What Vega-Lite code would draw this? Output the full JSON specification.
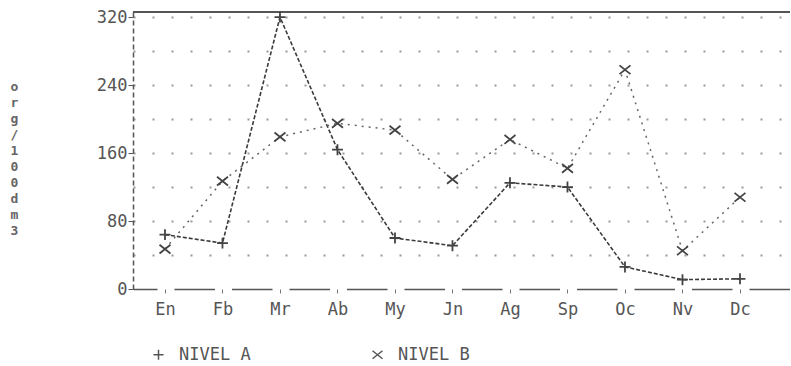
{
  "$schema": "https://vega.github.io/schema/vega-lite/v6.json",
  "autosize": {"type": "none"},
  "padding": {"left": 133, "top": 12, "right": 1, "bottom": 77},
  "width": 657,
  "height": 277,
  "background": "white",
  "config": {
    "view": {"stroke": null},
    "font": "DejaVu Sans Mono",
    "axis": {"labelFont": "DejaVu Sans Mono", "titleFont": "DejaVu Sans Mono"}
  },
  "data": {
    "values": [
      {"mes": "En", "nivel": "NIVEL A", "valor": 64},
      {"mes": "Fb", "nivel": "NIVEL A", "valor": 54},
      {"mes": "Mr", "nivel": "NIVEL A", "valor": 320},
      {"mes": "Ab", "nivel": "NIVEL A", "valor": 164},
      {"mes": "My", "nivel": "NIVEL A", "valor": 60},
      {"mes": "Jn", "nivel": "NIVEL A", "valor": 51},
      {"mes": "Ag", "nivel": "NIVEL A", "valor": 125},
      {"mes": "Sp", "nivel": "NIVEL A", "valor": 120},
      {"mes": "Oc", "nivel": "NIVEL A", "valor": 26},
      {"mes": "Nv", "nivel": "NIVEL A", "valor": 11},
      {"mes": "Dc", "nivel": "NIVEL A", "valor": 12},
      {"mes": "En", "nivel": "NIVEL B", "valor": 47},
      {"mes": "Fb", "nivel": "NIVEL B", "valor": 127},
      {"mes": "Mr", "nivel": "NIVEL B", "valor": 179},
      {"mes": "Ab", "nivel": "NIVEL B", "valor": 195},
      {"mes": "My", "nivel": "NIVEL B", "valor": 187},
      {"mes": "Jn", "nivel": "NIVEL B", "valor": 129},
      {"mes": "Ag", "nivel": "NIVEL B", "valor": 176},
      {"mes": "Sp", "nivel": "NIVEL B", "valor": 142},
      {"mes": "Oc", "nivel": "NIVEL B", "valor": 258},
      {"mes": "Nv", "nivel": "NIVEL B", "valor": 45},
      {"mes": "Dc", "nivel": "NIVEL B", "valor": 108}
    ]
  },
  "encoding": {
    "x": {
      "field": "mes",
      "type": "ordinal",
      "sort": ["En", "Fb", "Mr", "Ab", "My", "Jn", "Ag", "Sp", "Oc", "Nv", "Dc"],
      "scale": {"type": "point", "padding": 0.713, "align": 0.39},
      "axis": {
        "title": null,
        "labelAngle": 0,
        "labelFontSize": 17,
        "labelColor": "#555",
        "labelPadding": 8,
        "domainColor": "#555",
        "domainWidth": 1.5,
        "domainDash": [40.5, 17],
        "domainDashOffset": 16.5,
        "tickColor": "#777",
        "tickSize": 4,
        "tickWidth": 1
      }
    },
    "y": {
      "field": "valor",
      "type": "quantitative",
      "scale": {"domain": [0, 326], "nice": false},
      "axis": {
        "values": [0, 40, 80, 120, 160, 200, 240, 280, 320],
        "labelExpr": "datum.value % 80 == 0 ? datum.label : ''",
        "labelFontSize": 17,
        "labelColor": "#555",
        "labelPadding": 1,
        "tickSize": 5,
        "tickColor": "#555",
        "tickOpacity": {"condition": {"test": "datum.value % 80 == 0", "value": 1}, "value": 0},
        "domainColor": "#555",
        "domainWidth": 1.5,
        "domainDash": [5, 3],
        "grid": true,
        "gridColor": "#999",
        "gridWidth": 2,
        "gridDash": [2, 17],
        "gridOpacity": {"condition": {"test": "datum.value == 0", "value": 0}, "value": 1},
        "title": ["o", "r", "g", "/", "1", "0", "0", "", "d", "m", " 3"],
        "titleFontSize": 13,
        "titleFontWeight": "bold",
        "titleColor": "#666",
        "titleLineHeight": 16,
        "titleAngle": 0,
        "titleAlign": "center",
        "titleBaseline": "top",
        "titleX": -119,
        "titleY": 68
      }
    }
  },
  "layer": [
    {
      "mark": {"type": "rule", "color": "#555", "strokeWidth": 2},
      "encoding": {"y": {"datum": 326}, "x": null}
    },
    {
      "transform": [{"filter": "datum.nivel == 'NIVEL A'"}],
      "mark": {"type": "line", "strokeWidth": 1.6, "color": "#3a3a3a", "strokeDash": [4, 2]}
    },
    {
      "transform": [{"filter": "datum.nivel == 'NIVEL B'"}],
      "mark": {"type": "line", "strokeWidth": 1.5, "color": "#666666", "strokeDash": [2, 5]}
    },
    {
      "mark": {"type": "point", "filled": false, "strokeWidth": 1.8, "size": 120, "opacity": 1, "color": "#444"},
      "encoding": {
        "shape": {
          "field": "nivel",
          "type": "nominal",
          "scale": {"domain": ["NIVEL A", "NIVEL B"], "range": ["M-1,0L1,0M0,-1L0,1", "M-1,-0.8L1,0.8M-1,0.8L1,-0.8"]},
          "legend": {
            "title": null,
            "orient": "none",
            "legendX": 17,
            "legendY": 334,
            "direction": "horizontal",
            "columns": 2,
            "columnPadding": 118,
            "labelFontSize": 17,
            "labelColor": "#555",
            "labelFont": "DejaVu Sans Mono",
            "labelOffset": 12,
            "symbolSize": 100,
            "symbolStrokeWidth": 1.5,
            "symbolStrokeColor": "#555",
            "symbolFillColor": "transparent"
          }
        }
      }
    }
  ]
}
